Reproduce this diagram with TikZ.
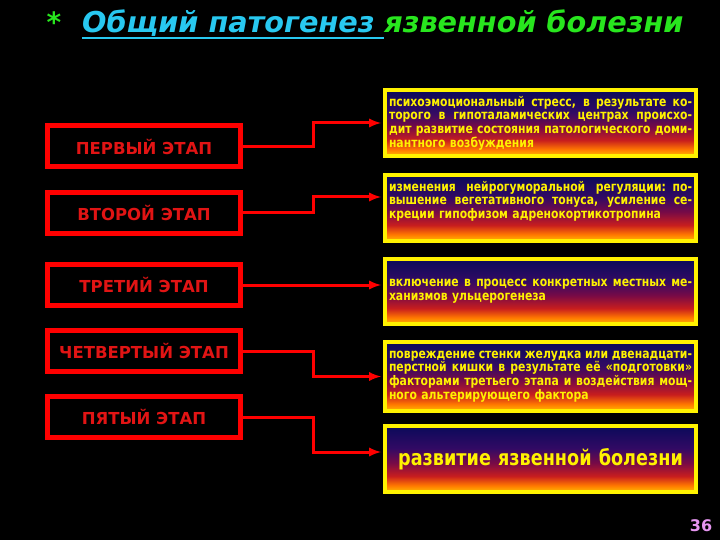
\documentclass[tikz,border=0pt]{standalone}
\usepackage{fontspec}
\setmainfont{DejaVu Sans}
\newfontfamily\narrowfont[FakeStretch=0.82]{DejaVu Sans}
\usetikzlibrary{arrows}

\definecolor{titlecyan}{RGB}{40,200,240}
\definecolor{titlegreen}{RGB}{40,230,30}
\definecolor{stagered}{RGB}{225,20,20}
\definecolor{notepink}{RGB}{230,150,240}
\definecolor{fillA}{RGB}{255,190,0}
\definecolor{fillB}{RGB}{255,120,0}
\definecolor{fillC}{RGB}{200,30,30}
\definecolor{fillD}{RGB}{120,10,70}
\definecolor{fillE}{RGB}{50,10,100}
\definecolor{fillF}{RGB}{10,10,90}
\pgfdeclareverticalshading{stagefill}{100bp}{color(0bp)=(fillA); color(25bp)=(fillA);
  color(30bp)=(fillB); color(37bp)=(fillC); color(47bp)=(fillD);
  color(58bp)=(fillE); color(75bp)=(fillF); color(100bp)=(fillF)}

\newcommand{\jline}[1]{\hbox to\hsize{\spaceskip=0.25em plus 1fil\relax #1}\par}

\tikzset{
  stagebox/.style={draw=red, line width=5pt, minimum width=193pt, minimum height=41pt,
    inner sep=0pt, text=stagered, font=\bfseries\fontsize{16.5}{18}\selectfont},
  notebox/.style={draw=yellow, line width=4pt, shade, shading=stagefill,
    minimum width=311pt, inner sep=0pt, text width=303pt, align=left, text=yellow,
    font=\narrowfont\bfseries\fontsize{13.2}{13.6}\selectfont},
  link/.style={draw=red, line width=3pt, -latex, shorten >=2pt}
}

\begin{document}
\begin{tikzpicture}[x=1pt, y=-1pt]
\useasboundingbox (0,0) rectangle (720,540);
\fill[black] (0,0) rectangle (720,540);

\node[anchor=base, text=titlegreen, font=\bfseries\fontsize{28}{30}\selectfont] (star) at (54,33) {*};
\node[anchor=base west, inner sep=0pt, text=titlecyan,
      font=\bfseries\itshape\fontsize{28.7}{31}\selectfont] (titleA) at (82,33) {Общий патогенез\kern0.33em};
\node[anchor=base west, inner sep=0pt, text=titlegreen,
      font=\bfseries\itshape\fontsize{28.7}{31}\selectfont] (titleB) at (titleA.base east) {язвенной болезни};
\draw[titlecyan, line width=2pt] ([yshift=-5pt]titleA.base west) -- ([yshift=-5pt]titleA.base east);

\node[stagebox] (first) at (144,146.5) {ПЕРВЫЙ ЭТАП};
\node[stagebox] (second) at (144,213) {ВТОРОЙ ЭТАП};
\node[stagebox] (third) at (144,285) {ТРЕТИЙ ЭТАП};
\node[stagebox] (fourth) at (144,351) {ЧЕТВЕРТЫЙ ЭТАП};
\node[stagebox] (fifth) at (144,417) {ПЯТЫЙ ЭТАП};

\node[notebox, minimum height=66pt] (stress) at (540.5,123) {
\jline{психоэмоциональный стресс, в результате ко-}
\jline{торого в гипоталамических центрах происхо-}
\jline{дит развитие состояния патологического доми-}
нантного возбуждения};
\node[notebox, minimum height=66pt] (regulation) at (540.5,208) {
\jline{изменения нейрогуморальной регуляции: по-}
\jline{вышение вегетативного тонуса, усиление се-}
креции гипофизом адренокортикотропина\par\vspace*{14pt}};
\node[notebox, minimum height=65pt] (local) at (540.5,291.5) {
\jline{включение в процесс конкретных местных ме-}
ханизмов ульцерогенеза};
\node[notebox, minimum height=69pt] (damage) at (540.5,376.5) {
\jline{повреждение стенки желудка или двенадцати-}
\jline{перстной кишки в результате её «подготовки»}
\jline{факторами третьего этапа и воздействия мощ-}
ного альтерирующего фактора};
\node[notebox, minimum height=66pt, align=center,
      font=\narrowfont\bfseries\fontsize{21.5}{24}\selectfont] (ulcer) at (540.5,459) {развитие язвенной болезни};

\coordinate (bend) at (313,0);
\draw[link] (first.east) -- (first.east -| bend) |- (stress.west);
\draw[link] (second.east) -- (second.east -| bend) |- ([yshift=11pt]regulation.west);
\draw[link] (third.east) -- (third.east -| local.west);
\draw[link] (fourth.east) -- (fourth.east -| bend) |- (damage.west);
\draw[link] (fifth.east) -- (fifth.east -| bend) |- ([yshift=7pt]ulcer.west);

\node[text=notepink, font=\bfseries\fontsize{16}{18}\selectfont] (page) at (701,526) {36};
\end{tikzpicture}
\end{document}
